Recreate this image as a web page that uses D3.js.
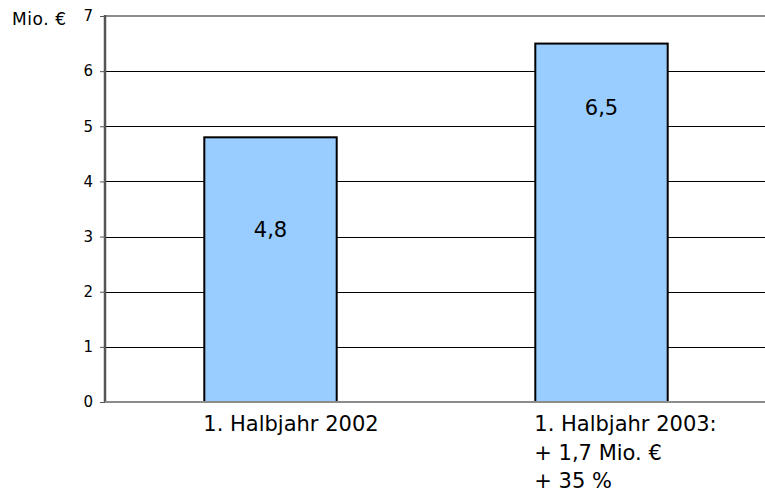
<!DOCTYPE html>
<html>
<head>
<meta charset="utf-8">
<script src="https://cdn.jsdelivr.net/npm/d3@7"></script>
<style>
  html, body { margin: 0; padding: 0; background: #fff; }
  svg { display: block; font-family: "DejaVu Sans", "Noto Sans", sans-serif; }
</style>
</head>
<body>
<svg width="765" height="493"></svg>
<script>
// chart data
const categories = ["1. Halbjahr 2002", "1. Halbjahr 2003"];
const values = [4.8, 6.5];
const valueLabels = ["4,8", "6,5"];
const categoryLines = [
  ["1. Halbjahr 2002"],
  ["1. Halbjahr 2003:", "+ 1,7 Mio. €", "+ 35 %"]
];
const yTicks = [0, 1, 2, 3, 4, 5, 6, 7];
const unitLabel = "Mio. €";

const svg = d3.select("svg");

const plotLeft = 105, plotRight = 767, plotTop = 16, plotBottom = 402;

const x = d3.scaleBand()
  .domain(categories)
  .range([plotLeft, plotRight])
  .padding(0);

const y = d3.scaleLinear()
  .domain([0, 7])
  .range([plotBottom, plotTop]);

/* -----------------------------
   Gridlines
----------------------------- */

svg.append("g")
  .selectAll("line")
  .data(yTicks.filter(t => t > 0 && t < 7))
  .enter()
  .append("line")
  .attr("x1", plotLeft)
  .attr("x2", 765)
  .attr("y1", d => Math.round(y(d)) + 0.5)
  .attr("y2", d => Math.round(y(d)) + 0.5)
  .attr("stroke", "#000")
  .attr("stroke-width", 1);

// top border of plot area
svg.append("line")
  .attr("x1", plotLeft)
  .attr("x2", 765)
  .attr("y1", y(7))
  .attr("y2", y(7))
  .attr("stroke", "#8c8c8c")
  .attr("stroke-width", 2);

/* -----------------------------
   Bars
----------------------------- */

const barW = x.bandwidth() * 0.4;

svg.append("g")
  .selectAll("rect")
  .data(values)
  .enter()
  .append("rect")
  .attr("x", (d, i) => x(categories[i]) + x.bandwidth() / 2 - barW / 2)
  .attr("y", d => y(d))
  .attr("width", barW)
  .attr("height", d => y(0) - y(d))
  .attr("fill", "#99ccff")
  .attr("stroke", "#000")
  .attr("stroke-width", 2);

// value labels inside the bars
const labelDrop = [100, 71];

svg.append("g")
  .selectAll("text")
  .data(values)
  .enter()
  .append("text")
  .attr("x", (d, i) => x(categories[i]) + x.bandwidth() / 2)
  .attr("y", (d, i) => y(d) + labelDrop[i])
  .attr("text-anchor", "middle")
  .attr("font-size", 21)
  .attr("fill", "#000")
  .text((d, i) => valueLabels[i]);

/* -----------------------------
   Axes
----------------------------- */

const yAxis = svg.append("g")
  .attr("transform", `translate(${plotLeft},0)`)
  .call(d3.axisLeft(y).tickValues(yTicks).tickSize(5).tickPadding(7).tickFormat(d3.format("d")));

yAxis.select(".domain").remove();
yAxis.selectAll(".tick line").attr("stroke", "#555");
yAxis.selectAll(".tick text")
  .attr("font-size", 15)
  .attr("font-family", "DejaVu Sans, sans-serif")
  .attr("fill", "#000");

svg.append("line")
  .attr("x1", plotLeft)
  .attr("x2", plotLeft)
  .attr("y1", plotTop - 1)
  .attr("y2", plotBottom + 1)
  .attr("stroke", "#555")
  .attr("stroke-width", 2.5);

// x axis line
svg.append("line")
  .attr("x1", plotLeft)
  .attr("x2", 765)
  .attr("y1", plotBottom)
  .attr("y2", plotBottom)
  .attr("stroke", "#8c8c8c")
  .attr("stroke-width", 2);

// category labels (left-aligned at bar edge)
categoryLines.forEach((lines, i) => {
  const cx = x(categories[i]) + x.bandwidth() / 2 - barW / 2 - 1;
  const t = svg.append("text")
    .attr("x", cx)
    .attr("y", 431)
    .attr("font-size", 21)
    .attr("fill", "#000");
  lines.forEach((line, j) => {
    t.append("tspan")
      .attr("x", cx)
      .attr("dy", j === 0 ? 0 : 28.5)
      .text(line);
  });
});

// unit label
svg.append("text")
  .attr("x", 12)
  .attr("y", 25)
  .attr("font-size", 17)
  .attr("letter-spacing", 0.6)
  .attr("fill", "#000")
  .text(unitLabel);
</script>
</body>
</html>
